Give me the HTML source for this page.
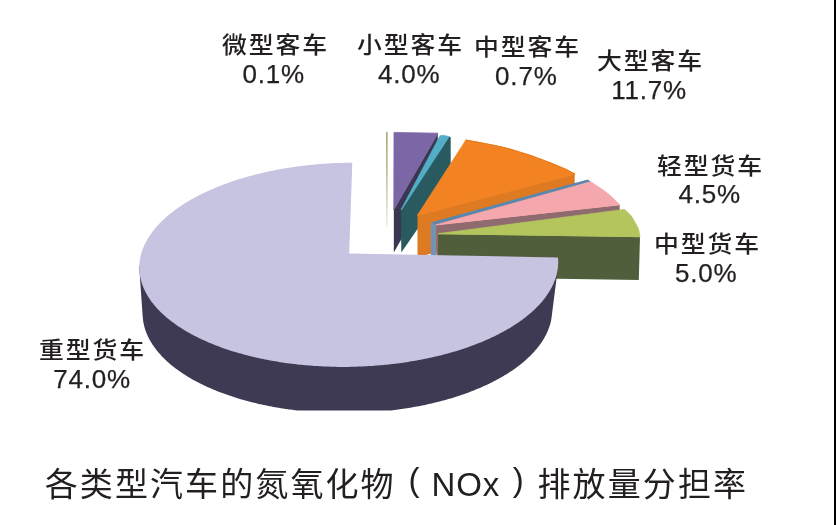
<!DOCTYPE html>
<html><head><meta charset="utf-8"><style>
html,body{margin:0;padding:0;background:#fff;}
body{width:836px;height:525px;position:relative;overflow:hidden;}
svg{position:absolute;left:0;top:0;}
.l{position:absolute;font-family:"Liberation Sans","Noto Sans CJK SC",sans-serif;color:#231f20;white-space:nowrap;}
</style></head><body>
<svg width="836" height="525" viewBox="0 0 836 525">
<defs><linearGradient id="mg" x1="0" y1="0" x2="0" y2="1"><stop offset="0" stop-color="#9ea36a"/><stop offset="0.4" stop-color="#b4b88a"/><stop offset="1" stop-color="#eef0e4"/></linearGradient></defs>
<rect x="386.1" y="132" width="1.5" height="95" fill="url(#mg)"/>
<polygon points="393.8,209.5 437.8,133.2 437.8,175.2 393.8,252.5" fill="#3b3652"/>
<polygon points="393.8,209.5 394,132.4 437.8,133.2" fill="#7c67a6" stroke="#7c67a6" stroke-width="0.8" stroke-linejoin="round"/>
<line x1="393.8" y1="209.5" x2="437.8" y2="133.2" stroke="#7c67a6" stroke-width="1.0"/>
<polygon points="401,209.5 449,136.6 450.7,137.3 450.7,181 401.3,252.6 401,212" fill="#285a60"/>
<polygon points="401,209.5 440,135.5 444,135.2 449,136.6 401.6,209.5" fill="#52aec6" stroke="#52aec6" stroke-width="0.5" stroke-linejoin="round"/>
<line x1="401.6" y1="209.5" x2="449" y2="136.6" stroke="#52aec6" stroke-width="0.8"/>
<polygon points="417.5,215.2 574.7,174 574.7,216 417.5,257.2" fill="#de7a21"/>
<polygon points="417.5,215.2 465.9,140.1 468.7,140.6 472.4,141.3 476.9,142.1 481.9,143 487,144 492.2,145 497.2,146.1 501.7,147.1 505.8,148.1 509.9,149.2 513.8,150.3 517.7,151.5 521.6,152.7 525.4,153.9 529.1,155.1 532.8,156.4 536.5,157.7 540.3,159.1 544.1,160.6 547.9,162 551.5,163.4 554.9,164.8 558,166.1 560.8,167.3 563.3,168.4 565.6,169.4 567.7,170.4 569.5,171.3 571.1,172.2 572.5,172.9 573.7,173.5 574.7,174" fill="#f38322" stroke="#f38322" stroke-width="0.8" stroke-linejoin="round"/>
<line x1="417.5" y1="215.2" x2="574.7" y2="174" stroke="#f38322" stroke-width="1.0"/>
<polyline points="465.9,140.1 468.7,140.6 472.4,141.3 476.9,142.1 481.9,143 487,144 492.2,145 497.2,146.1 501.7,147.1 505.8,148.1 509.9,149.2 513.8,150.3 517.7,151.5 521.6,152.7 525.4,153.9 529.1,155.1 532.8,156.4 536.5,157.7 540.3,159.1 544.1,160.6 547.9,162 551.5,163.4 554.9,164.8 558,166.1 560.8,167.3 563.3,168.4 565.6,169.4 567.7,170.4 569.5,171.3 571.1,172.2 572.5,172.9 573.7,173.5 574.7,174" fill="none" stroke="#e67d1c" stroke-width="1.2" stroke-linejoin="round" stroke-linecap="round"/>
<polygon points="430.8,222.4 436,224.6 436,256 430.8,256" fill="#7093b6"/>
<polygon points="430.8,222.4 587.8,179.5 590.8,181.8 436,224.6" fill="#5a87b0"/>
<polygon points="436.3,224.8 619.7,204.7 619.7,246.7 436.3,266.8" fill="#8f6b70"/>
<polygon points="436.3,224.8 590.8,181.8 591.4,182.2 592.3,182.8 593.3,183.4 594.4,184.2 595.6,184.9 596.8,185.7 597.9,186.5 599,187.2 600,187.9 601,188.6 602,189.2 603,189.9 604,190.6 604.9,191.3 605.8,191.9 606.7,192.6 607.5,193.3 608.3,193.9 609.1,194.5 609.8,195.2 610.5,195.8 611.3,196.5 612,197.2 612.8,197.9 613.7,198.7 614.6,199.7 615.6,200.6 616.6,201.6 617.6,202.6 618.4,203.4 619.2,204.2 619.7,204.7" fill="#f4a8ae" stroke="#f4a8ae" stroke-width="0.8" stroke-linejoin="round"/>
<line x1="436.3" y1="224.8" x2="619.7" y2="204.7" stroke="#f4a8ae" stroke-width="1.0"/>
<polygon points="438,233.7 640,236.7 638.8,280 438,277" fill="#505e3c"/>
<polygon points="438,233.7 624.5,209.4 625,209.9 625.7,210.5 626.5,211.2 627.3,212 628.2,212.8 629.1,213.7 630,214.6 630.7,215.4 631.3,216.2 631.9,217.1 632.5,217.9 633,218.8 633.5,219.7 634,220.6 634.5,221.4 635,222.3 635.5,223.1 636,224 636.4,224.8 636.9,225.7 637.3,226.5 637.7,227.3 638.1,228.2 638.4,229.1 638.7,230.1 639,231.1 639.2,232.2 639.4,233.3 639.6,234.4 639.8,235.3 639.9,236.1 640,236.7" fill="#b4c55e" stroke="#b4c55e" stroke-width="0.8" stroke-linejoin="round"/>
<line x1="438" y1="233.7" x2="640" y2="236.7" stroke="#b4c55e" stroke-width="1.0"/>
<polygon points="139.3,267.4 139.4,266.5 139.4,265.6 558.1,264.8 558,265.7 558,266.6 557.9,267.5 557.8,268.4 551.7,316.5 551.6,317.4 551.5,318.3 551.3,319.1 551.2,320 551,320.9 550.8,321.8 550.6,322.7 550.3,323.5 550.1,324.4 549.8,325.3 549.5,326.2 549.3,327.1 548.9,327.9 548.6,328.8 548.3,329.7 547.9,330.5 547.6,331.4 547.2,332.3 546.8,333.1 546.4,334 545.9,334.9 545.5,335.7 545,336.6 544.6,337.4 544.1,338.3 543.6,339.2 543,340 542.5,340.9 541.9,341.7 541.4,342.5 540.8,343.4 540.2,344.2 539.6,345.1 539,345.9 538.3,346.7 537.7,347.6 537,348.4 536.3,349.2 535.6,350 534.9,350.8 534.2,351.7 533.5,352.5 532.7,353.3 531.9,354.1 531.2,354.9 530.4,355.7 529.6,356.5 528.7,357.3 527.9,358.1 527.1,358.8 526.2,359.6 525.3,360.4 524.4,361.2 523.5,362 522.6,362.7 521.7,363.5 520.7,364.2 519.8,365 518.8,365.7 517.8,366.5 516.8,367.2 515.8,368 514.8,368.7 513.7,369.4 512.7,370.2 511.6,370.9 510.6,371.6 509.5,372.3 508.4,373 507.3,373.7 506.1,374.4 505,375.1 503.9,375.8 502.7,376.5 501.5,377.2 500.3,377.8 499.1,378.5 497.9,379.2 496.7,379.8 495.5,380.5 494.3,381.1 493,381.8 491.7,382.4 490.5,383 489.2,383.7 487.9,384.3 486.6,384.9 485.3,385.5 483.9,386.1 482.6,386.7 481.3,387.3 479.9,387.9 478.5,388.5 477.2,389.1 475.8,389.6 474.4,390.2 473,390.7 471.6,391.3 470.1,391.8 468.7,392.4 467.2,392.9 465.8,393.4 464.3,394 462.9,394.5 461.4,395 459.9,395.5 458.4,396 456.9,396.5 455.4,397 453.8,397.4 452.3,397.9 450.8,398.4 449.2,398.8 447.7,399.3 446.1,399.7 444.5,400.2 443,400.6 441.4,401 439.8,401.4 438.2,401.8 436.6,402.2 435,402.6 433.4,403 431.7,403.4 430.1,403.8 428.5,404.1 426.8,404.5 425.2,404.9 423.5,405.2 421.9,405.5 420.2,405.9 418.5,406.2 416.8,406.5 415.2,406.8 413.5,407.1 411.8,407.4 410.1,407.7 408.4,408 406.7,408.3 404.9,408.5 403.2,408.8 401.5,409.1 399.8,409.3 398.1,409.5 396.3,409.8 394.6,410 392.8,410.2 391.1,410.4 389.4,410.5 387.6,410.5 385.8,410.5 384.1,410.5 382.3,410.5 380.6,410.5 378.8,410.5 377,410.5 375.3,410.5 373.5,410.5 371.7,410.5 369.9,410.5 368.2,410.5 366.4,410.5 364.6,410.5 362.8,410.5 361,410.5 359.3,410.5 357.5,410.5 355.7,410.5 353.9,410.5 352.1,410.5 350.3,410.5 348.6,410.5 346.8,410.5 345,410.5 343.2,410.5 341.4,410.5 339.6,410.5 337.8,410.5 336,410.5 334.3,410.5 332.5,410.5 330.7,410.5 328.9,410.5 327.1,410.5 325.4,410.5 323.6,410.5 321.8,410.5 320,410.5 318.3,410.5 316.5,410.5 314.7,410.5 313,410.5 311.2,410.5 309.5,410.5 307.7,410.5 306,410.5 304.2,410.5 302.5,410.5 300.7,410.5 299,410.5 297.2,410.5 295.5,410.3 293.8,410.1 292.1,409.8 290.3,409.6 288.6,409.4 286.9,409.1 285.2,408.9 283.5,408.6 281.8,408.4 280.1,408.1 278.4,407.8 276.8,407.5 275.1,407.2 273.4,406.9 271.8,406.6 270.1,406.3 268.4,406 266.8,405.6 265.2,405.3 263.5,405 261.9,404.6 260.3,404.2 258.7,403.9 257.1,403.5 255.5,403.1 253.9,402.7 252.3,402.3 250.7,401.9 249.1,401.5 247.6,401.1 246,400.7 244.5,400.3 242.9,399.8 241.4,399.4 239.9,399 238.3,398.5 236.8,398 235.3,397.6 233.8,397.1 232.4,396.6 230.9,396.1 229.4,395.6 228,395.1 226.5,394.6 225.1,394.1 223.7,393.6 222.2,393.1 220.8,392.5 219.4,392 218,391.5 216.7,390.9 215.3,390.3 213.9,389.8 212.6,389.2 211.2,388.6 209.9,388.1 208.6,387.5 207.3,386.9 206,386.3 204.7,385.7 203.4,385.1 202.2,384.5 200.9,383.8 199.7,383.2 198.4,382.6 197.2,382 196,381.3 194.8,380.7 193.6,380 192.4,379.4 191.3,378.7 190.1,378 189,377.4 187.9,376.7 186.7,376 185.6,375.3 184.6,374.6 183.5,373.9 182.4,373.2 181.4,372.5 180.3,371.8 179.3,371.1 178.3,370.4 177.3,369.6 176.3,368.9 175.3,368.2 174.4,367.4 173.4,366.7 172.5,366 171.5,365.2 170.6,364.5 169.7,363.7 168.9,362.9 168,362.2 167.1,361.4 166.3,360.6 165.5,359.9 164.7,359.1 163.9,358.3 163.1,357.5 162.3,356.7 161.5,355.9 160.8,355.1 160.1,354.3 159.4,353.5 158.7,352.7 158,351.9 157.3,351.1 156.6,350.3 156,349.4 155.4,348.6 154.8,347.8 154.2,347 153.6,346.1 153,345.3 152.4,344.5 151.9,343.6 151.4,342.8 150.9,341.9 150.4,341.1 149.9,340.2 149.4,339.4 149,338.5 148.6,337.7 148.1,336.8 147.7,336 147.3,335.1 147,334.3 146.6,333.4 146.3,332.5 145.9,331.7 145.6,330.8 145.3,329.9 145,329 144.8,328.2 144.5,327.3 144.3,326.4 144.1,325.6 143.9,324.7 143.7,323.8 143.5,322.9 143.3,322 143.2,321.2 143.1,320.3 143,319.4 142.9,318.5 142.8,317.6 142.7,316.7 139.5,271 139.4,270.1 139.4,269.2 139.3,268.3" fill="#3f3a53"/>
<polygon points="557.2,257.5 558,257.7 558,258.6 558.1,259.4 558.1,260.3 558.2,261.2 558.2,262.1 558.2,263 558.1,263.9 558.1,264.8 558,265.7 558,266.6 557.9,267.5 557.8,268.4 557.7,269.2 557.5,270.1 557.4,271 557.2,271.9 557,272.8 556.8,273.7 556.6,274.6 556.4,275.5 556.1,276.4 555.9,277.2 555.6,278.1 555.3,279 555,279.9 554.6,280.8 554.3,281.6 553.9,282.5 553.6,283.4 553.2,284.3 552.8,285.1 552.4,286 551.9,286.9 551.5,287.8 551,288.6 550.5,289.5 550,290.4 549.5,291.2 549,292.1 548.4,292.9 547.9,293.8 547.3,294.6 546.7,295.5 546.1,296.3 545.5,297.2 544.9,298 544.2,298.9 543.6,299.7 542.9,300.6 542.2,301.4 541.5,302.2 540.8,303 540,303.9 539.3,304.7 538.5,305.5 537.7,306.3 536.9,307.1 536.1,307.9 535.3,308.8 534.5,309.6 533.6,310.4 532.7,311.1 531.9,311.9 531,312.7 530.1,313.5 529.1,314.3 528.2,315.1 527.3,315.8 526.3,316.6 525.3,317.4 524.3,318.1 523.3,318.9 522.3,319.7 521.3,320.4 520.2,321.1 519.2,321.9 518.1,322.6 517,323.4 515.9,324.1 514.8,324.8 513.7,325.5 512.6,326.2 511.4,327 510.3,327.7 509.1,328.4 507.9,329 506.7,329.7 505.5,330.4 504.3,331.1 503.1,331.8 501.8,332.4 500.6,333.1 499.3,333.8 498.1,334.4 496.8,335.1 495.5,335.7 494.2,336.4 492.8,337 491.5,337.6 490.2,338.2 488.8,338.9 487.4,339.5 486.1,340.1 484.7,340.7 483.3,341.3 481.9,341.9 480.5,342.4 479,343 477.6,343.6 476.2,344.1 474.7,344.7 473.2,345.3 471.8,345.8 470.3,346.3 468.8,346.9 467.3,347.4 465.8,347.9 464.3,348.4 462.7,348.9 461.2,349.4 459.6,349.9 458.1,350.4 456.5,350.9 455,351.4 453.4,351.8 451.8,352.3 450.2,352.8 448.6,353.2 447,353.7 445.4,354.1 443.7,354.5 442.1,354.9 440.5,355.4 438.8,355.8 437.2,356.2 435.5,356.6 433.8,356.9 432.2,357.3 430.5,357.7 428.8,358.1 427.1,358.4 425.4,358.8 423.7,359.1 422,359.5 420.3,359.8 418.6,360.1 416.8,360.4 415.1,360.7 413.4,361 411.6,361.3 409.9,361.6 408.1,361.9 406.4,362.2 404.6,362.4 402.9,362.7 401.1,362.9 399.3,363.2 397.5,363.4 395.8,363.6 394,363.9 392.2,364.1 390.4,364.3 388.6,364.5 386.8,364.7 385,364.8 383.2,365 381.4,365.2 379.6,365.3 377.8,365.5 376,365.6 374.2,365.8 372.4,365.9 370.5,366 368.7,366.1 366.9,366.2 365.1,366.3 363.3,366.4 361.4,366.5 359.6,366.6 357.8,366.6 356,366.7 354.1,366.7 352.3,366.8 350.5,366.8 348.7,366.9 346.8,366.9 345,366.9 343.2,366.9 341.3,366.9 339.5,366.9 337.7,366.9 335.9,366.8 334,366.8 332.2,366.7 330.4,366.7 328.6,366.6 326.8,366.6 325,366.5 323.1,366.4 321.3,366.3 319.5,366.2 317.7,366.1 315.9,366 314.1,365.9 312.3,365.8 310.5,365.6 308.7,365.5 306.9,365.3 305.1,365.2 303.3,365 301.6,364.8 299.8,364.7 298,364.5 296.2,364.3 294.5,364.1 292.7,363.9 290.9,363.6 289.2,363.4 287.4,363.2 285.7,362.9 283.9,362.7 282.2,362.4 280.5,362.2 278.8,361.9 277,361.6 275.3,361.3 273.6,361 271.9,360.7 270.2,360.4 268.5,360.1 266.8,359.8 265.2,359.4 263.5,359.1 261.8,358.8 260.2,358.4 258.5,358.1 256.9,357.7 255.2,357.3 253.6,356.9 252,356.5 250.4,356.2 248.7,355.8 247.1,355.3 245.5,354.9 244,354.5 242.4,354.1 240.8,353.6 239.3,353.2 237.7,352.7 236.2,352.3 234.6,351.8 233.1,351.4 231.6,350.9 230.1,350.4 228.6,349.9 227.1,349.4 225.6,348.9 224.1,348.4 222.6,347.9 221.2,347.4 219.7,346.8 218.3,346.3 216.9,345.8 215.5,345.2 214.1,344.7 212.7,344.1 211.3,343.6 209.9,343 208.6,342.4 207.2,341.8 205.9,341.2 204.5,340.6 203.2,340 201.9,339.4 200.6,338.8 199.3,338.2 198,337.6 196.8,337 195.5,336.3 194.3,335.7 193.1,335.1 191.8,334.4 190.6,333.7 189.5,333.1 188.3,332.4 187.1,331.8 185.9,331.1 184.8,330.4 183.7,329.7 182.6,329 181.5,328.3 180.4,327.6 179.3,326.9 178.2,326.2 177.2,325.5 176.1,324.8 175.1,324.1 174.1,323.3 173.1,322.6 172.1,321.9 171.1,321.1 170.1,320.4 169.2,319.6 168.3,318.9 167.3,318.1 166.4,317.4 165.6,316.6 164.7,315.8 163.8,315 163,314.3 162.1,313.5 161.3,312.7 160.5,311.9 159.7,311.1 158.9,310.3 158.2,309.5 157.4,308.7 156.7,307.9 156,307.1 155.2,306.3 154.6,305.5 153.9,304.7 153.2,303.8 152.6,303 151.9,302.2 151.3,301.4 150.7,300.5 150.1,299.7 149.6,298.8 149,298 148.5,297.2 147.9,296.3 147.4,295.5 146.9,294.6 146.5,293.8 146,292.9 145.5,292 145.1,291.2 144.7,290.3 144.3,289.5 143.9,288.6 143.5,287.7 143.2,286.9 142.8,286 142.5,285.1 142.2,284.2 141.9,283.4 141.6,282.5 141.4,281.6 141.1,280.7 140.9,279.9 140.7,279 140.5,278.1 140.3,277.2 140.1,276.3 140,275.4 139.8,274.5 139.7,273.7 139.6,272.8 139.5,271.9 139.5,271 139.4,270.1 139.4,269.2 139.3,268.3 139.3,267.4 139.4,266.5 139.4,265.6 139.4,264.8 139.5,263.9 139.5,263 139.6,262.1 139.7,261.2 139.9,260.3 140,259.4 140.1,258.5 140.3,257.6 140.5,256.7 140.7,255.9 140.9,255 141.1,254.1 141.4,253.2 141.7,252.3 141.9,251.4 142.2,250.5 142.5,249.7 142.9,248.8 143.2,247.9 143.6,247 143.9,246.1 144.3,245.3 144.7,244.4 145.2,243.5 145.6,242.7 146,241.8 146.5,240.9 147,240.1 147.5,239.2 148,238.3 148.5,237.5 149.1,236.6 149.6,235.8 150.2,234.9 150.8,234.1 151.4,233.2 152,232.4 152.6,231.5 153.3,230.7 153.9,229.8 154.6,229 155.3,228.2 156,227.3 156.7,226.5 157.5,225.7 158.2,224.9 159,224 159.8,223.2 160.6,222.4 161.4,221.6 162.2,220.8 163,220 163.9,219.2 164.8,218.4 165.6,217.6 166.5,216.8 167.4,216 168.4,215.3 169.3,214.5 170.3,213.7 171.2,212.9 172.2,212.2 173.2,211.4 174.2,210.6 175.2,209.9 176.2,209.1 177.3,208.4 178.3,207.7 179.4,206.9 180.5,206.2 181.6,205.5 182.7,204.7 183.8,204 184.9,203.3 186.1,202.6 187.2,201.9 188.4,201.2 189.6,200.5 190.8,199.8 192,199.1 193.2,198.4 194.4,197.8 195.7,197.1 196.9,196.4 198.2,195.8 199.5,195.1 200.7,194.5 202,193.8 203.4,193.2 204.7,192.6 206,191.9 207.4,191.3 208.7,190.7 210.1,190.1 211.4,189.5 212.8,188.9 214.2,188.3 215.6,187.7 217,187.1 218.5,186.5 219.9,186 221.4,185.4 222.8,184.8 224.3,184.3 225.7,183.8 227.2,183.2 228.7,182.7 230.2,182.2 231.7,181.6 233.3,181.1 234.8,180.6 236.3,180.1 237.9,179.6 239.4,179.1 241,178.6 242.6,178.2 244.1,177.7 245.7,177.2 247.3,176.8 248.9,176.3 250.5,175.9 252.1,175.5 253.8,175 255.4,174.6 257,174.2 258.7,173.8 260.3,173.4 262,173 263.7,172.6 265.3,172.2 267,171.8 268.7,171.5 270.4,171.1 272.1,170.8 273.8,170.4 275.5,170.1 277.2,169.8 278.9,169.4 280.7,169.1 282.4,168.8 284.1,168.5 285.9,168.2 287.6,167.9 289.4,167.7 291.1,167.4 292.9,167.1 294.7,166.9 296.4,166.6 298.2,166.4 300,166.1 301.7,165.9 303.5,165.7 305.3,165.5 307.1,165.3 308.9,165.1 310.7,164.9 312.5,164.7 314.3,164.5 316.1,164.4 317.9,164.2 319.7,164.1 321.5,163.9 323.3,163.8 325.1,163.7 327,163.5 328.8,163.4 330.6,163.3 332.4,163.2 334.2,163.1 336.1,163 337.9,163 339.7,162.9 341.5,162.9 343.4,162.8 345.2,162.8 347,162.7 348.9,162.7 350.7,162.7 352.3,162.7 349.2,253.5" fill="#c6c4e0"/>
</svg>
<div class="l" style="left:222.2px;top:34.4px;font-size:23px;line-height:23px;letter-spacing:1.8px;font-weight:500;transform:scaleX(1.08);transform-origin:0 0;">微型客车</div>
<div class="l" style="left:357.0px;top:34.4px;font-size:23px;line-height:23px;letter-spacing:1.8px;font-weight:500;transform:scaleX(1.08);transform-origin:0 0;">小型客车</div>
<div class="l" style="left:474.2px;top:36.4px;font-size:23px;line-height:23px;letter-spacing:1.8px;font-weight:500;transform:scaleX(1.08);transform-origin:0 0;">中型客车</div>
<div class="l" style="left:596.7px;top:50.4px;font-size:23px;line-height:23px;letter-spacing:1.8px;font-weight:500;transform:scaleX(1.08);transform-origin:0 0;">大型客车</div>
<div class="l" style="left:656.8px;top:154.8px;font-size:23px;line-height:23px;letter-spacing:1.8px;font-weight:500;transform:scaleX(1.08);transform-origin:0 0;">轻型货车</div>
<div class="l" style="left:654.1px;top:233.2px;font-size:23px;line-height:23px;letter-spacing:1.8px;font-weight:500;transform:scaleX(1.08);transform-origin:0 0;">中型货车</div>
<div class="l" style="left:39.2px;top:339.4px;font-size:23px;line-height:23px;letter-spacing:1.8px;font-weight:500;transform:scaleX(1.08);transform-origin:0 0;">重型货车</div>
<div class="l" style="left:242.5px;top:60.8px;font-size:26px;line-height:26px;letter-spacing:0.8px;font-weight:400;-webkit-text-stroke:0.25px #231f20;">0.1%</div>
<div class="l" style="left:378.0px;top:61.2px;font-size:26px;line-height:26px;letter-spacing:0.8px;font-weight:400;-webkit-text-stroke:0.25px #231f20;">4.0%</div>
<div class="l" style="left:495.1px;top:62.8px;font-size:26px;line-height:26px;letter-spacing:0.8px;font-weight:400;-webkit-text-stroke:0.25px #231f20;">0.7%</div>
<div class="l" style="left:611.2px;top:76.9px;font-size:26px;line-height:26px;letter-spacing:0.8px;font-weight:400;-webkit-text-stroke:0.25px #231f20;">11.7%</div>
<div class="l" style="left:678.5px;top:180.9px;font-size:26px;line-height:26px;letter-spacing:0.8px;font-weight:400;-webkit-text-stroke:0.25px #231f20;">4.5%</div>
<div class="l" style="left:675.0px;top:259.7px;font-size:26px;line-height:26px;letter-spacing:0.8px;font-weight:400;-webkit-text-stroke:0.25px #231f20;">5.0%</div>
<div class="l" style="left:53.2px;top:365.9px;font-size:26px;line-height:26px;letter-spacing:0.8px;font-weight:400;-webkit-text-stroke:0.25px #231f20;">74.0%</div>
<div class="l" style="left:44.7px;top:467.8px;font-size:33px;line-height:33px;letter-spacing:2.1px;font-weight:400;">各类型汽车的氮氧化物</div>
<div class="l" style="left:408.5px;top:463.4px;font-size:33px;line-height:33px;letter-spacing:0px;font-weight:400;">(</div>
<div class="l" style="left:431.6px;top:467.7px;font-size:33px;line-height:33px;letter-spacing:0.8px;font-weight:400;">NOx</div>
<div class="l" style="left:512.8px;top:463.4px;font-size:33px;line-height:33px;letter-spacing:0px;font-weight:400;">)</div>
<div class="l" style="left:537.5px;top:468.1px;font-size:33px;line-height:33px;letter-spacing:2.1px;font-weight:400;">排放量分担率</div>
<div style="position:absolute;left:834px;top:0;width:2px;height:525px;background:#000"></div>
</body></html>
